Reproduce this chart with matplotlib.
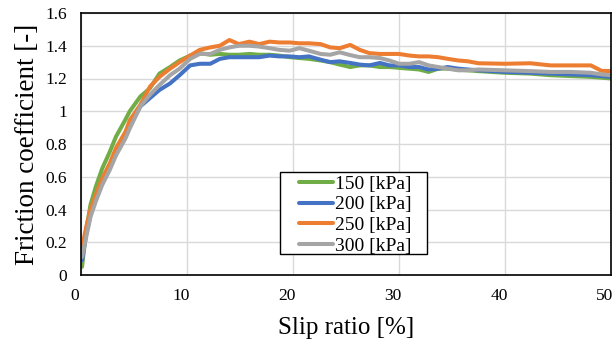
import matplotlib
matplotlib.use("Agg")
import matplotlib.pyplot as plt
from matplotlib.ticker import FuncFormatter
from matplotlib.patches import Rectangle
from matplotlib.transforms import ScaledTranslation

slip = [0.1, 0.5, 0.9, 1.4, 2.0, 2.7, 3.3, 4.2, 4.6, 5.6, 6.5, 7.4, 8.4, 9.3, 10.3, 11.2,
        12.2, 13.1, 14.0, 14.9, 15.9, 16.8, 17.8, 18.7, 19.7, 20.6, 21.5, 22.6, 23.5, 24.4,
        25.4, 26.3, 27.2, 28.2, 29.1, 30.0, 31.0, 31.9, 32.8, 33.7, 34.6, 35.6, 36.5, 37.5,
        40.0, 42.4, 44.3, 46.2, 48.1, 49.1, 50.0]

mu_150 = [0.05, 0.28, 0.43, 0.54, 0.65, 0.75, 0.845, 0.95, 1.0, 1.09, 1.14, 1.23, 1.27, 1.31, 1.34, 1.355,
          1.345, 1.35, 1.345, 1.345, 1.35, 1.345, 1.345, 1.34, 1.33, 1.325, 1.32, 1.31, 1.30, 1.285,
          1.27, 1.28, 1.28, 1.27, 1.27, 1.265, 1.26, 1.255, 1.24, 1.26, 1.26, 1.255, 1.25, 1.245,
          1.235, 1.23, 1.22, 1.215, 1.21, 1.205, 1.20]
mu_200 = [0.09, 0.25, 0.37, 0.47, 0.57, 0.66, 0.75, 0.855, 0.91, 1.03, 1.08, 1.13, 1.17, 1.22, 1.28, 1.29,
          1.29, 1.32, 1.33, 1.33, 1.33, 1.33, 1.34, 1.335, 1.335, 1.33, 1.335, 1.315, 1.30, 1.305,
          1.295, 1.285, 1.28, 1.295, 1.28, 1.28, 1.27, 1.27, 1.255, 1.26, 1.27, 1.26, 1.255, 1.25,
          1.24, 1.235, 1.23, 1.225, 1.22, 1.215, 1.21]
mu_250 = [0.17, 0.295, 0.40, 0.49, 0.59, 0.68, 0.775, 0.875, 0.945, 1.04, 1.15, 1.21, 1.26, 1.30, 1.34, 1.375,
          1.39, 1.40, 1.435, 1.41, 1.425, 1.41, 1.425, 1.42, 1.42, 1.415, 1.415, 1.41, 1.39, 1.385,
          1.405, 1.375, 1.355, 1.35, 1.35, 1.35, 1.34, 1.335, 1.335, 1.33, 1.32, 1.31, 1.305, 1.293,
          1.29, 1.293, 1.28, 1.28, 1.28, 1.247, 1.245]
mu_300 = [0.11, 0.235, 0.356, 0.45, 0.55, 0.64, 0.73, 0.835, 0.895, 1.03, 1.10, 1.16, 1.22, 1.26, 1.32, 1.35,
          1.35, 1.375, 1.39, 1.40, 1.40, 1.395, 1.385, 1.375, 1.37, 1.385, 1.37, 1.35, 1.345, 1.36,
          1.343, 1.33, 1.33, 1.325, 1.31, 1.29, 1.29, 1.30, 1.28, 1.27, 1.26, 1.25, 1.25, 1.255,
          1.25, 1.245, 1.24, 1.24, 1.235, 1.225, 1.22]

labels = ["150 [kPa]", "200 [kPa]", "250 [kPa]", "300 [kPa]"]
colors = ["#70AD47", "#4472C4", "#ED7D31", "#A5A5A5"]
series = [mu_150, mu_200, mu_250, mu_300]

x_ticks = [0, 10, 20, 30, 40, 50]
y_ticks = [0, 0.2, 0.4, 0.6, 0.8, 1.0, 1.2, 1.4, 1.6]

plt.rcParams['font.family'] = ['Liberation Serif', 'DejaVu Serif']

W, H = 613, 342
fig = plt.figure(figsize=(W / 100, H / 100), dpi=100)
ax = fig.add_axes([81 / W, 1 - 275 / H, 530 / W, 262 / H])

for y, c, lab in zip(series, colors, labels):
    ax.plot(slip, y, color=c, lw=2.9, label=lab, solid_capstyle='round', solid_joinstyle='round')

ax.set_xlim(0, 50)
ax.set_ylim(0, 1.6)
ax.set_xticks(x_ticks)
ax.set_yticks(y_ticks)
ax.yaxis.set_major_formatter(FuncFormatter(lambda v, p: f"{v:g}"))
ax.grid(True, color="#d9d9d9", lw=1.0)
ax.set_axisbelow(True)
ax.tick_params(length=0, labelsize=12.5)
ax.tick_params(axis='y', pad=10)
ax.tick_params(axis='x', pad=9)
shift = ScaledTranslation(-6 / 100, 0, fig.dpi_scale_trans)
for lab in ax.get_xticklabels():
    lab.set_transform(lab.get_transform() + shift)
for s in ax.spines.values():
    s.set_color("#000000")
    s.set_linewidth(1.2)

ax.set_xlabel("Slip ratio [%]", fontsize=18, labelpad=10)
ax.set_ylabel("Friction coefficient [-]", fontsize=19.5, labelpad=4)

# legend box
box = Rectangle((280 / W, 1 - 254 / H), 147 / W, 82 / H, transform=fig.transFigure,
                facecolor="white", edgecolor="black", lw=1.0, zorder=5, clip_on=False)
ax.add_patch(box)
leg = ax.legend(loc="upper left", bbox_to_anchor=(298 / W, 1 - 174 / H), bbox_transform=fig.transFigure,
                fontsize=14, frameon=False, handlelength=1.75,
                handletextpad=0.1, borderpad=0.05, labelspacing=0.16, borderaxespad=0)
leg.set_zorder(6)

fig.savefig("out.png", dpi=100)
